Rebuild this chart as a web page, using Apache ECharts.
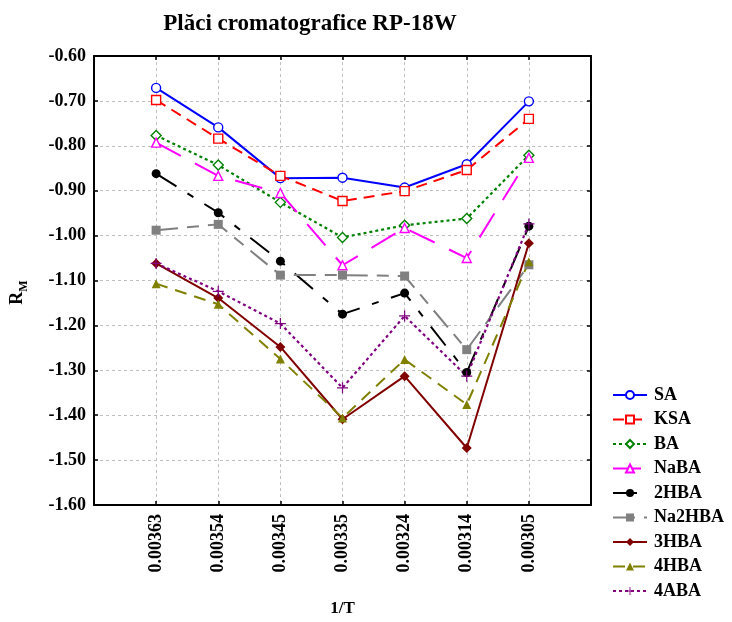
<!DOCTYPE html>
<html>
<head>
<meta charset="utf-8">
<script src="https://cdn.jsdelivr.net/npm/echarts@6/dist/echarts.min.js"></script>
<style>html,body{margin:0;padding:0;background:#fff}#c{width:732px;height:622px}</style>
</head>
<body>
<div id="c"></div>
<script>
var categories = ['0.00363','0.00354','0.00345','0.00335','0.00324','0.00314','0.00305'];
var yTicks = [-1.6,-1.5,-1.4,-1.3,-1.2,-1.1,-1.0,-0.9,-0.8,-0.7,-0.6];
var SA     = [-0.671,-0.759,-0.872,-0.871,-0.893,-0.841,-0.701];
var KSA    = [-0.698,-0.784,-0.867,-0.923,-0.901,-0.854,-0.740];
var BA     = [-0.777,-0.843,-0.926,-1.004,-0.977,-0.962,-0.821];
var NaBA   = [-0.793,-0.867,-0.905,-1.066,-0.983,-1.050,-0.827];
var HBA2   = [-0.862,-0.949,-1.057,-1.175,-1.128,-1.305,-0.979];
var Na2HBA = [-0.988,-0.975,-1.088,-1.088,-1.090,-1.254,-1.065];
var HBA3   = [-1.062,-1.139,-1.248,-1.409,-1.313,-1.473,-1.017];
var HBA4   = [-1.107,-1.153,-1.275,-1.406,-1.276,-1.376,-1.058];
var ABA4   = [-1.062,-1.124,-1.196,-1.339,-1.179,-1.313,-0.974];

var FONT = '"Liberation Serif", "Times New Roman", serif';
function pts(arr){ return arr.map(function(v,i){ return [i+1, v]; }); }
var plus = 'path://M4,0 L5,0 L5,4 L9,4 L9,5 L5,5 L5,9 L4,9 L4,5 L0,5 L0,4 L4,4 Z';

function mk(name, data, color, dash, symbol, hollow, width, size){
  return {
    name: name, type: 'line', data: pts(data), xAxisIndex: 0, yAxisIndex: 0,
    symbol: symbol, symbolSize: size || 9, showSymbol: true,
    lineStyle: {color: color, width: width || 2, type: dash},
    itemStyle: hollow ? {color: '#fff', borderColor: color, borderWidth: 1.4} : {color: color, borderColor: color, borderWidth: 0},
    emphasis: {disabled: true},
    animation: false
  };
}

var series = [
  mk('SA', SA, '#0000ff', 'solid', 'circle', true),
  mk('KSA', KSA, '#ff0000', [11,7], 'rect', true),
  mk('BA', BA, '#008000', [3,3], 'diamond', true, 2.2, 10),
  mk('NaBA', NaBA, '#ff00ff', [28,16], 'triangle', true),
  mk('2HBA', HBA2, '#000000', [24,13,7,13], 'circle', false),
  mk('Na2HBA', Na2HBA, '#808080', [22,9,12,9], 'rect', false),
  mk('3HBA', HBA3, '#800000', 'solid', 'diamond', false, 2, 10),
  mk('4HBA', HBA4, '#808000', [12,8], 'triangle', false),
  mk('4ABA', ABA4, '#800080', [3,3], plus, false, 2.2, 11)
];

var chart = echarts.init(document.getElementById('c'), null, {renderer: 'canvas'});
chart.setOption({
  animation: false,
  backgroundColor: '#fff',
  title: {
    text: 'Plăci cromatografice RP-18W', left: 305, top: 8, textAlign: 'center',
    textStyle: {fontFamily: FONT, fontWeight: 'bold', fontSize: 23, color: '#000'}
  },
  legend: {
    orient: 'vertical', left: 607, top: 381, itemWidth: 34, itemHeight: 10, itemGap: 6.5,
    textStyle: {fontFamily: FONT, fontWeight: 'bold', fontSize: 18, color: '#000', padding: [0,0,0,2]},
    data: series.map(function(s){ return s.name; })
  },
  grid: {left: 94, right: 141, top: 56, bottom: 108, containLabel: false},
  xAxis: [{
    type: 'value', min: 0, max: 8, interval: 1, position: 'bottom',
    name: '1/T', nameLocation: 'middle', nameGap: 95,
    nameTextStyle: {fontFamily: FONT, fontWeight: 'bold', fontSize: 17, color: '#000'},
    axisLine: {onZero: false, lineStyle: {color: '#000', width: 2}},
    axisTick: {inside: true, length: 4, lineStyle: {color: '#000', width: 1.5}},
    axisLabel: {rotate: 90, margin: 9, fontFamily: FONT, fontWeight: 'bold', fontSize: 18, color: '#000',
      formatter: function(v){ return categories[v-1] || ''; }},
    splitLine: {show: true, lineStyle: {color: '#c0c0c0', type: [3,3], width: 1}}
  },{
    type: 'value', min: 0, max: 8, interval: 1, position: 'top',
    axisLine: {onZero: false, lineStyle: {color: '#000', width: 2}},
    axisTick: {inside: true, length: 4, lineStyle: {color: '#000', width: 1.5}},
    axisLabel: {show: false}, splitLine: {show: false}
  }],
  yAxis: [{
    type: 'value', min: -1.6, max: -0.6, interval: 0.1, position: 'left',
    name: '{r|R}{s|M}', nameLocation: 'middle', nameGap: 68, nameRotate: 90,
    nameTextStyle: {fontFamily: FONT, fontWeight: 'bold', color: '#000', padding: [0,24,0,0],
      rich: {
        r: {fontFamily: FONT, fontWeight: 'bold', fontSize: 18, color: '#000', lineHeight: 22, verticalAlign: 'bottom'},
        s: {fontFamily: FONT, fontWeight: 'bold', fontSize: 12, color: '#000', lineHeight: 22, verticalAlign: 'bottom', padding: [0,0,-4,0]}
      }},
    axisLine: {onZero: false, lineStyle: {color: '#000', width: 2}},
    axisTick: {inside: true, length: 4, lineStyle: {color: '#000', width: 1.5}},
    axisLabel: {margin: 8, fontFamily: FONT, fontWeight: 'bold', fontSize: 18, color: '#000',
      formatter: function(v){ return v.toFixed(2); }},
    splitLine: {show: true, lineStyle: {color: '#c0c0c0', type: [3,3], width: 1}}
  },{
    type: 'value', min: -1.6, max: -0.6, interval: 0.1, position: 'right',
    axisLine: {onZero: false, lineStyle: {color: '#000', width: 2}},
    axisTick: {inside: true, length: 4, lineStyle: {color: '#000', width: 1.5}},
    axisLabel: {show: false}, splitLine: {show: false}
  }],
  series: series
});
</script>
</body>
</html>
